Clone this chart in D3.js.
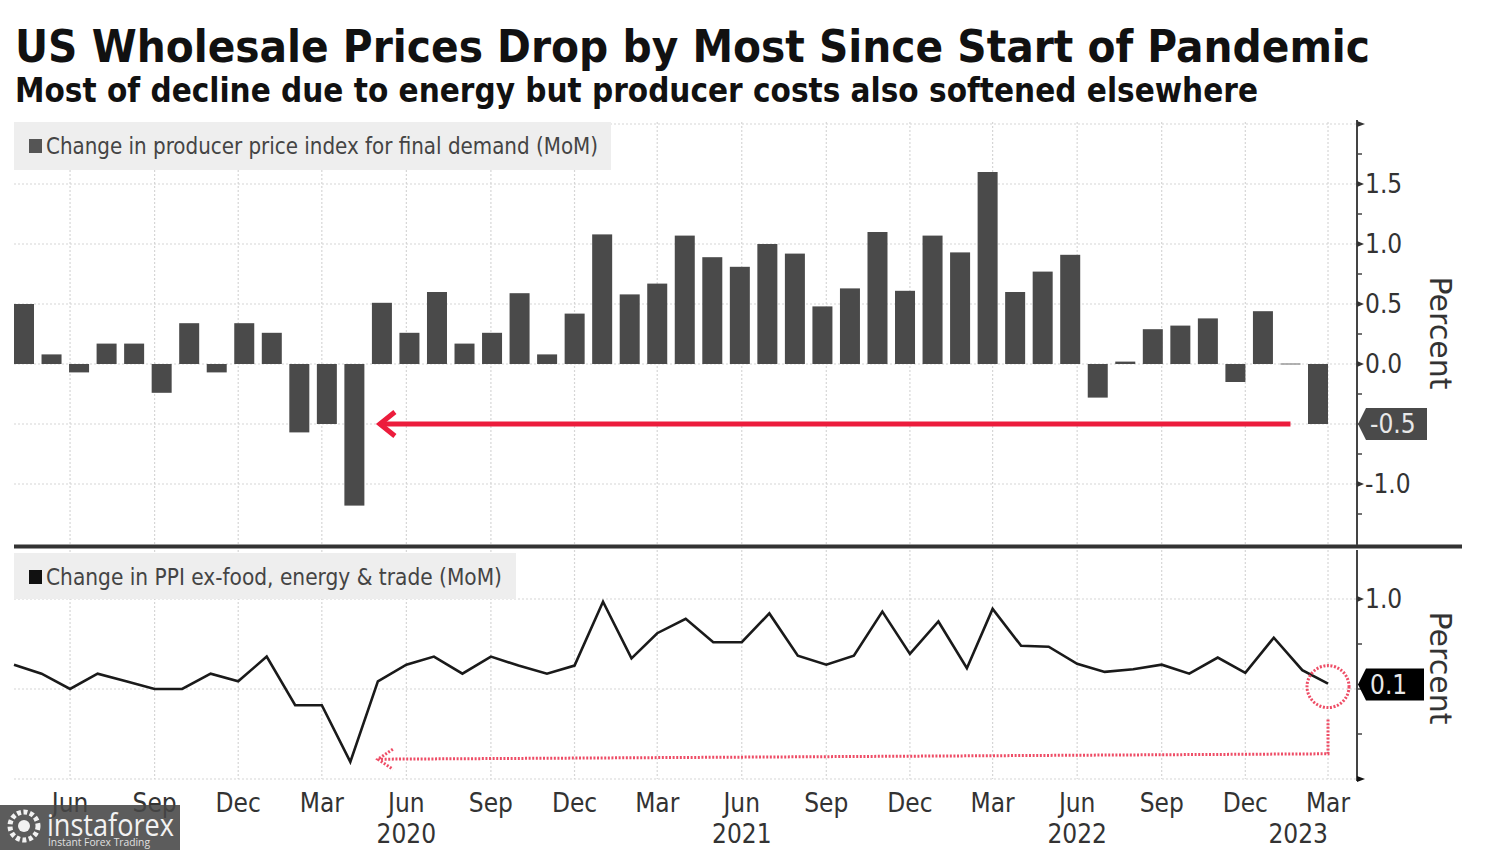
<!DOCTYPE html>
<html>
<head>
<meta charset="utf-8">
<script src="https://cdn.jsdelivr.net/npm/d3@7"></script>
<style>
  html, body { margin: 0; padding: 0; background: #fff; }
  svg { display: block; }
</style>
</head>
<body>
<svg id="chart" width="1500" height="850"></svg>
<script>
// ---------------- DATA ----------------
const months = [
  "2019-04","2019-05","2019-06","2019-07","2019-08","2019-09","2019-10","2019-11","2019-12",
  "2020-01","2020-02","2020-03","2020-04","2020-05","2020-06","2020-07","2020-08","2020-09","2020-10","2020-11","2020-12",
  "2021-01","2021-02","2021-03","2021-04","2021-05","2021-06","2021-07","2021-08","2021-09","2021-10","2021-11","2021-12",
  "2022-01","2022-02","2022-03","2022-04","2022-05","2022-06","2022-07","2022-08","2022-09","2022-10","2022-11","2022-12",
  "2023-01","2023-02","2023-03"
];
// Change in PPI for final demand (MoM, %)
const ppiFinalDemand = [
  0.5, 0.08, -0.07, 0.17, 0.17, -0.24, 0.34, -0.07, 0.34,
  0.26, -0.57, -0.5, -1.18, 0.51, 0.26, 0.6, 0.17, 0.26, 0.59, 0.08, 0.42,
  1.08, 0.58, 0.67, 1.07, 0.89, 0.81, 1.0, 0.92, 0.48, 0.63, 1.1, 0.61,
  1.07, 0.93, 1.6, 0.6, 0.77, 0.91, -0.28, 0.02, 0.29, 0.32, 0.38, -0.15,
  0.44, 0.0, -0.5
];
// Change in PPI ex-food, energy & trade (MoM, %)
const ppiCore = [
  0.27, 0.17, 0.0, 0.17, 0.085, 0.0, 0.0, 0.17, 0.085,
  0.36, -0.18, -0.18, -0.81, 0.085, 0.27, 0.36, 0.17, 0.36, 0.26, 0.17, 0.26,
  0.97, 0.34, 0.62, 0.78, 0.52, 0.52, 0.84, 0.37, 0.27, 0.37, 0.86, 0.39,
  0.75, 0.23, 0.89, 0.48, 0.47, 0.28, 0.19, 0.22, 0.27, 0.17, 0.35, 0.18,
  0.57, 0.21, 0.06
];
const topTicks = [-1.0, 0.0, 0.5, 1.0, 1.5];
const topMinorTicks = [-1.25, -0.75, -0.5, -0.25, 0.25, 0.75, 1.25, 1.75, 2.0];
const topGrid = [-1.0, -0.5, 0.0, 0.5, 1.0, 1.5, 2.0];
const botTicks = [1.0];
const botMinorTicks = [-1.0, -0.5, 0.0, 0.5];
const botGrid = [-1.0, 0.0, 1.0];
const monthNames = {2: "Mar", 5: "Jun", 8: "Sep", 11: "Dec"};
const yearLabels = [
  {month: "2020-06", label: "2020", anchor: "middle"},
  {month: "2021-06", label: "2021", anchor: "middle"},
  {month: "2022-06", label: "2022", anchor: "middle"},
  {month: "2023-03", label: "2023", anchor: "end"}
];
const titleText = "US Wholesale Prices Drop by Most Since Start of Pandemic";
const subtitleText = "Most of decline due to energy but producer costs also softened elsewhere";
const legendTop = "Change in producer price index for final demand (MoM)";
const legendBot = "Change in PPI ex-food, energy & trade (MoM)";

// ---------------- SETUP ----------------
const svg = d3.select("#chart");
const COND = "'DejaVu Sans Condensed', 'DejaVu Sans', sans-serif";
const parse = d3.timeParse("%Y-%m");

const plotL = 14, axisX = 1357;
const xTime = d3.scaleTime()
  .domain([parse("2019-04"), parse("2023-04")])
  .range([plotL, 1356.5]);
const xBand = d3.scaleBand().domain(months).range([plotL, 1328]).paddingInner(0.2735).paddingOuter(0);

const yTop = d3.scaleLinear().domain([-1.5, 2.0]).range([544, 124]);
const yBot = d3.scaleLinear().domain([-1.0, 1.0]).range([779, 599]);
const topPanel = {y0: 122, y1: 544};
const botPanel = {y0: 550, y1: 779};

const fmt = v => d3.format(".1f")(v).replace("−", "-");

// ---------------- TITLES ----------------
svg.append("text").attr("x", 15).attr("y", 62)
  .attr("font-family", COND).attr("font-weight", "bold")
  .attr("font-size", 44).attr("fill", "#111")
  .attr("textLength", 1355).attr("lengthAdjust", "spacingAndGlyphs")
  .text(titleText);
svg.append("text").attr("x", 15).attr("y", 102)
  .attr("font-family", COND).attr("font-weight", "bold")
  .attr("font-size", 33).attr("fill", "#111")
  .attr("textLength", 1243).attr("lengthAdjust", "spacingAndGlyphs")
  .text(subtitleText);

// ---------------- GRID ----------------
const gridTicks = d3.timeMonth.range(parse("2019-04"), parse("2023-04")).filter(d => d.getMonth() % 3 === 2);
const grid = svg.append("g").attr("stroke", "#d6d6d6").attr("stroke-width", 1.2).attr("stroke-dasharray", "2,2");
[topPanel, botPanel].forEach(p => {
  grid.selectAll(null).data(gridTicks).enter().append("line")
    .attr("x1", d => xTime(d)).attr("x2", d => xTime(d))
    .attr("y1", p.y0).attr("y2", p.y1);
});
grid.selectAll(null).data(topGrid).enter().append("line")
  .attr("x1", plotL).attr("x2", axisX).attr("y1", d => yTop(d)).attr("y2", d => yTop(d));
grid.selectAll(null).data(botGrid).enter().append("line")
  .attr("x1", plotL).attr("x2", axisX).attr("y1", d => yBot(d)).attr("y2", d => yBot(d));

// ---------------- LEGENDS ----------------
function legend(x, y, w, h, color, text, textW) {
  svg.append("rect").attr("x", x).attr("y", y).attr("width", w).attr("height", h).attr("fill", "#eeeeee");
  svg.append("rect").attr("x", x + 15).attr("y", y + 17).attr("width", 13).attr("height", 14).attr("fill", color);
  svg.append("text").attr("x", x + 32).attr("y", y + 32)
    .attr("font-family", COND).attr("font-size", 23).attr("fill", "#444")
    .attr("textLength", textW).attr("lengthAdjust", "spacingAndGlyphs")
    .text(text);
}
legend(14, 122, 597, 48, "#555", legendTop, 552);
legend(14, 553, 502, 46, "#111", legendBot, 456);

// ---------------- BARS ----------------
svg.append("g").selectAll("rect").data(months).enter().append("rect")
  .attr("x", d => xBand(d))
  .attr("width", xBand.bandwidth())
  .attr("y", (d, i) => {
    const v = ppiFinalDemand[i];
    const h = Math.max(Math.abs(yTop(v) - yTop(0)), 1.5);
    return v >= 0 ? yTop(0) - h + (v === 0 ? 0.75 : 0) : yTop(0);
  })
  .attr("height", (d, i) => Math.max(Math.abs(yTop(ppiFinalDemand[i]) - yTop(0)), 1.5))
  .attr("fill", (d, i) => Math.abs(ppiFinalDemand[i]) < 0.01 ? "#9a9a9a" : "#4a4a4a");

// ---------------- LINE ----------------
const line = d3.line().x((d, i) => xTime(parse(months[i]))).y(d => yBot(d));
svg.append("path").datum(ppiCore).attr("d", line)
  .attr("fill", "none").attr("stroke", "#1a1a1a").attr("stroke-width", 2.6).attr("stroke-linejoin", "miter");

// ---------------- SEPARATOR ----------------
svg.append("line").attr("x1", plotL).attr("x2", 1462).attr("y1", 546.5).attr("y2", 546.5)
  .attr("stroke", "#333").attr("stroke-width", 4);

// ---------------- RIGHT AXES ----------------
function rightAxis(scale, major, minor, y0, y1) {
  const g = svg.append("g").attr("transform", `translate(${axisX},0)`);
  g.append("line").attr("x1", 0).attr("x2", 0).attr("y1", y0).attr("y2", y1)
    .attr("stroke", "#444").attr("stroke-width", 2);
  g.selectAll(".mn").data(minor).enter().append("line")
    .attr("x1", 0).attr("x2", 5).attr("y1", d => scale(d)).attr("y2", d => scale(d))
    .attr("stroke", "#444").attr("stroke-width", 1.5);
  g.selectAll(".mj").data(major).enter().append("path")
    .attr("d", d => `M0,${scale(d) - 3}L7,${scale(d)}L0,${scale(d) + 3}Z`)
    .attr("fill", "#333");
  g.selectAll(".lb").data(major).enter().append("text")
    .attr("x", 8).attr("y", d => scale(d) + 9)
    .attr("font-family", COND).attr("font-size", 26).attr("fill", "#333")
    .text(d => fmt(d));
  return g;
}
rightAxis(yTop, topTicks, topMinorTicks, 120, 545);
rightAxis(yBot, botTicks, botMinorTicks, 550, 781);
// end markers
svg.append("path").attr("d", `M${axisX},${yTop(2.0) - 3}L${axisX + 8},${yTop(2.0)}L${axisX},${yTop(2.0) + 3}Z`).attr("fill", "#333");
svg.append("path").attr("d", `M${axisX},${yBot(-1.0) - 3}L${axisX + 8},${yBot(-1.0)}L${axisX},${yBot(-1.0) + 3}Z`).attr("fill", "#111");

// Percent labels
[333, 668].forEach(cy => {
  svg.append("text").attr("transform", `translate(1430,${cy}) rotate(90)`)
    .attr("text-anchor", "middle").attr("font-family", "'DejaVu Sans', sans-serif")
    .attr("font-size", 30).attr("fill", "#333").text("Percent");
});

// ---------------- VALUE TAGS ----------------
function tag(y, value, fill, textFill, right) {
  const tipX = axisX + 1, bx = tipX + 8;
  svg.append("path")
    .attr("d", `M${tipX},${y}L${bx},${y - 16}L${right},${y - 16}L${right},${y + 16}L${bx},${y + 16}Z`)
    .attr("fill", fill);
  svg.append("text").attr("x", bx + 4).attr("y", y + 9)
    .attr("font-family", COND).attr("font-size", 26).attr("fill", textFill)
    .text(fmt(value));
}
tag(yTop(ppiFinalDemand[ppiFinalDemand.length - 1]), ppiFinalDemand[ppiFinalDemand.length - 1], "#4a4a4a", "#e8e8e8", 1427);
tag(yBot(ppiCore[ppiCore.length - 1]) + 1, ppiCore[ppiCore.length - 1], "#000", "#e8e8e8", 1424);

// ---------------- ANNOTATIONS ----------------
const tipX = xTime(parse("2020-05"));
const redY = yTop(-0.5);
const arrowStartX = xBand(months[46]) + xBand.bandwidth() / 2;
svg.append("line").attr("x1", arrowStartX).attr("x2", tipX + 3).attr("y1", redY).attr("y2", redY)
  .attr("stroke", "#ec1c3c").attr("stroke-width", 5);
svg.append("path").attr("d", `M${tipX + 17},${redY - 12}L${tipX + 2},${redY}L${tipX + 17},${redY + 12}`)
  .attr("fill", "none").attr("stroke", "#ec1c3c").attr("stroke-width", 5).attr("stroke-linejoin", "miter");

const lastX = xTime(parse(months[months.length - 1]));
const cy = yBot(ppiCore[ppiCore.length - 1]) + 3;
const dotted = {stroke: "#ee4d66", "stroke-width": 3, "stroke-dasharray": "2,1.6", fill: "none"};
function applyAttrs(sel, o) { Object.entries(o).forEach(([k, v]) => sel.attr(k, v)); return sel; }
applyAttrs(svg.append("circle").attr("cx", lastX).attr("cy", cy).attr("r", 21), dotted);
const yLow = yBot(-0.72), yLowL = yBot(-0.78);
applyAttrs(svg.append("path")
  .attr("d", `M${lastX},${cy + 33}L${lastX},${yLow}L${tipX + 2},${yLowL}`), dotted);
applyAttrs(svg.append("path")
  .attr("d", `M${tipX + 15},${yLowL - 10}L${tipX},${yLowL}L${tipX + 15},${yLowL + 10}`), dotted);

// ---------------- X AXIS LABELS ----------------
const xl = svg.append("g").attr("font-family", COND).attr("font-size", 26).attr("fill", "#333").attr("text-anchor", "middle");
xl.selectAll(null).data(gridTicks).enter().append("text")
  .attr("x", d => xTime(d)).attr("y", 812).text(d => monthNames[d.getMonth()]);
xl.selectAll(null).data(yearLabels).enter().append("text")
  .attr("x", d => xTime(parse(d.month))).attr("y", 843)
  .attr("text-anchor", d => d.anchor).text(d => d.label);

// ---------------- WATERMARK ----------------
const wm = svg.append("g");
wm.append("rect").attr("x", 0).attr("y", 805).attr("width", 180).attr("height", 45).attr("fill", "rgba(70,70,70,0.88)");
wm.append("circle").attr("cx", 24).attr("cy", 826).attr("r", 14).attr("fill", "none").attr("stroke", "#f2f2f2").attr("stroke-width", 5).attr("stroke-dasharray", "4,2.5");
wm.append("circle").attr("cx", 24).attr("cy", 826).attr("r", 6).attr("fill", "#f2f2f2");
wm.append("text").attr("x", 47).attr("y", 836).attr("font-family", "'Open Sans', sans-serif")
  .attr("font-size", 31).attr("fill", "#f2f2f2").attr("textLength", 127).attr("lengthAdjust", "spacingAndGlyphs").text("instaforex");
wm.append("text").attr("x", 48).attr("y", 846).attr("font-family", "'Open Sans', sans-serif")
  .attr("font-size", 10.5).attr("fill", "#e0e0e0").attr("textLength", 102).attr("lengthAdjust", "spacingAndGlyphs").text("Instant Forex Trading");
</script>
</body>
</html>
